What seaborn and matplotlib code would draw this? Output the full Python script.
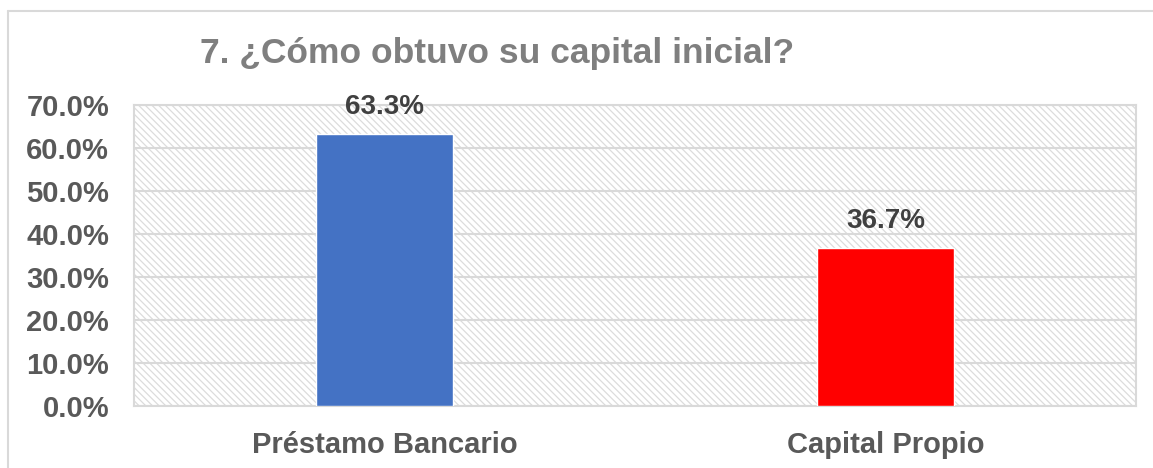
import numpy as np
import pandas as pd
import seaborn as sns
import matplotlib
matplotlib.use('Agg')
from matplotlib import pyplot as plt
from matplotlib.patches import Rectangle
from matplotlib.ticker import PercentFormatter

categories = ['Préstamo Bancario', 'Capital Propio']
values = [63.3, 36.7]
colors = ['#4472C4', '#FF0000']
y_ticks = [0, 10, 20, 30, 40, 50, 60, 70]

df = pd.DataFrame({'Origen': categories, 'Porcentaje': values})

sns.set_style('white')
plt.rcParams['font.family'] = ['Liberation Sans', 'DejaVu Sans']
plt.rcParams['hatch.linewidth'] = 0.9

fig = plt.figure(figsize=(11.53, 4.68), dpi=100)
ax = fig.add_axes([134/1153, 1 - 406/468, 1002/1153, 301/468])

# hatched plot background
bg = Rectangle((0, 0), 1, 1, transform=ax.transAxes, facecolor='white',
               edgecolor='#dcdcdc', hatch='\\' * 5, linewidth=0, zorder=0)
ax.add_patch(bg)

sns.barplot(data=df, x='Origen', y='Porcentaje', hue='Origen', palette=colors,
            width=0.273, legend=False, ax=ax, zorder=3, saturation=1)

ax.set_ylim(0, 70)
ax.set_yticks(y_ticks)
ax.yaxis.set_major_formatter(PercentFormatter(decimals=1))
ax.grid(axis='y', color='#d9d9d9', linewidth=1.5, zorder=1)
ax.set_axisbelow(True)
for s in ax.spines.values():
    s.set_color('#d9d9d9')
    s.set_linewidth(1.5)
ax.set_xlabel('')
ax.set_ylabel('')
ax.tick_params(axis='y', labelsize=21, labelcolor='#595959', length=0, pad=18)
ax.tick_params(axis='x', labelsize=21, labelcolor='#595959', length=0, pad=18)
for lbl in ax.get_xticklabels() + ax.get_yticklabels():
    lbl.set_fontweight('bold')

for i, v in enumerate(values):
    ax.text(i, v + 3.3, f'{v:.1f}%', ha='center', va='bottom', fontsize=20,
            fontweight='bold', color='#404040', zorder=5)

fig.text(497/1153, 1 - 53/468, '7. ¿Cómo obtuvo su capital inicial?', ha='center',
         va='center', fontsize=25.5, fontweight='bold', color='#7f7f7f')

# outer chart border
fig.add_artist(plt.Line2D([8/1153, 1], [1 - 11/468, 1 - 11/468], color='#d9d9d9',
                          linewidth=1.5, transform=fig.transFigure))
fig.add_artist(plt.Line2D([8/1153, 8/1153], [0, 1 - 11/468], color='#d9d9d9',
                          linewidth=1.5, transform=fig.transFigure))

fig.savefig('out.png', dpi=100)
